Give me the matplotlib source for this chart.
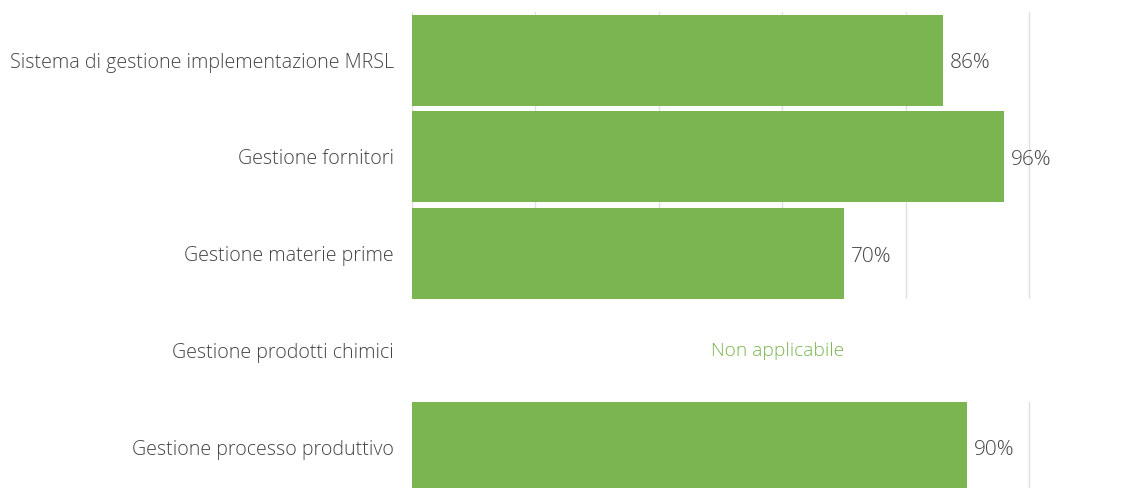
import matplotlib.pyplot as plt
import matplotlib.patches as patches
import numpy as np

categories = [
    'Sistema di gestione implementazione MRSL',
    'Gestione fornitori',
    'Gestione materie prime',
    'Gestione prodotti chimici',
    'Gestione processo produttivo',
]
values = [86, 96, 70, None, 90]
na_label = 'Non applicabile'

GREEN = '#7ab550'
TEXT = '#444444'
GRID = '#e0e0e0'

plt.rcParams['font.family'] = ['Open Sans', 'DejaVu Sans']

fig = plt.figure(figsize=(11.38, 4.88), dpi=100, facecolor='white')
# axes: left edge at x=412px, top at y=12px, bottom at image edge
ax = fig.add_axes([412 / 1138, 0, 1 - 412 / 1138, 1 - 12 / 488])

y = np.arange(len(categories))
xmax = (1138 - 412) / 6.17
ax.set_xlim(0, xmax)
ax.set_ylim(4.42, -0.496)

# vertical gridlines
for gx in range(0, 101, 20):
    ax.axvline(gx, color=GRID, linewidth=1, zorder=0)

for i, v in enumerate(values):
    if v is None:
        # blank out gridlines in the non applicable row
        ax.add_patch(patches.Rectangle((-1, i - 0.53), xmax + 2, 1.06,
                                       facecolor='white', edgecolor='none', zorder=1))
        ax.text(59.3, i, na_label, color=GREEN, fontsize=13.8, fontweight='light',
                ha='center', va='center', zorder=3)
    else:
        ax.barh(i, v, height=0.94, color=GREEN, zorder=2)
        ax.text(v + 1.1, i + 0.03, f'{v}%', color=TEXT, fontsize=15, fontweight='light',
                ha='left', va='center', zorder=3)

ax.set_yticks(y)
ax.set_yticklabels(categories, fontsize=14.1, color=TEXT, fontweight='light')
ax.tick_params(axis='y', length=0, pad=13)
ax.set_xticks([])
for s in ax.spines.values():
    s.set_visible(False)

fig.savefig('out.png', dpi=100, facecolor='white')
